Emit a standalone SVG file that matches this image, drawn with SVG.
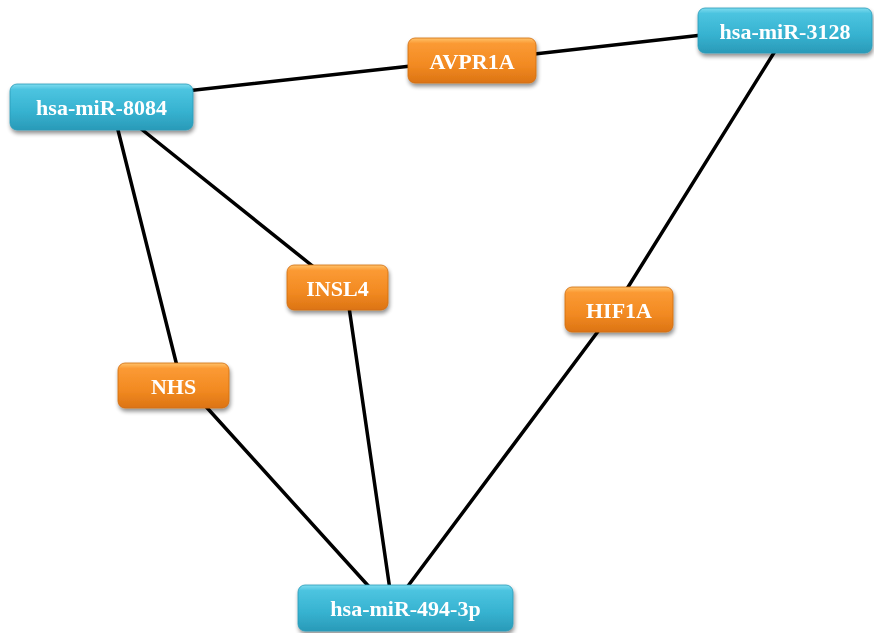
<svg xmlns="http://www.w3.org/2000/svg" width="874" height="633" viewBox="0 0 874 633">
<defs>
<linearGradient id="gb" x1="0" y1="0" x2="0" y2="1">
<stop offset="0" stop-color="#7fdcef"/>
<stop offset="0.12" stop-color="#4cc4e0"/>
<stop offset="0.6" stop-color="#36b2d0"/>
<stop offset="1" stop-color="#2a9ab8"/>
</linearGradient>
<linearGradient id="go" x1="0" y1="0" x2="0" y2="1">
<stop offset="0" stop-color="#ffc36a"/>
<stop offset="0.12" stop-color="#fb9a34"/>
<stop offset="0.6" stop-color="#f28a22"/>
<stop offset="1" stop-color="#dc7414"/>
</linearGradient>
<filter id="sh" x="-10%" y="-20%" width="125%" height="150%">
<feGaussianBlur in="SourceAlpha" stdDeviation="2"/>
<feOffset dx="1" dy="3" result="b"/>
<feComponentTransfer><feFuncA type="linear" slope="0.45"/></feComponentTransfer>
<feMerge><feMergeNode/><feMergeNode in="SourceGraphic"/></feMerge>
</filter>
</defs>
<style>
.mir rect{fill:url(#gb);stroke:#2a9ab8;stroke-width:0.8}
.gene rect{fill:url(#go);stroke:#d06c10;stroke-width:0.8}
text{font-family:"Liberation Serif","Times New Roman",serif;font-weight:bold;font-size:22px;fill:#ffffff;text-anchor:middle}
.edges line{stroke:#000000;stroke-width:3.5;stroke-linecap:round}
</style>
<rect width="874" height="633" fill="#ffffff"/>
<g class="edges">
<line x1="150" y1="95" x2="420" y2="65"/>
<line x1="500" y1="58" x2="720" y2="33"/>
<line x1="115" y1="118" x2="178" y2="370"/>
<line x1="130" y1="120" x2="320" y2="272"/>
<line x1="785" y1="35" x2="620" y2="300"/>
<line x1="200" y1="400" x2="372" y2="590"/>
<line x1="348" y1="300" x2="390" y2="590"/>
<line x1="605" y1="322" x2="405" y2="590"/>
</g>
<g id="n-hsa-miR-8084" class="mir" filter="url(#sh)"><rect x="10" y="84" width="183" height="46" rx="7"/><text x="101.5" y="114.5">hsa-miR-8084</text></g>
<g id="n-AVPR1A" class="gene" filter="url(#sh)"><rect x="408" y="38" width="128" height="45" rx="7"/><text x="472" y="68.5">AVPR1A</text></g>
<g id="n-hsa-miR-3128" class="mir" filter="url(#sh)"><rect x="698" y="8" width="174" height="45" rx="7"/><text x="785" y="38.5">hsa-miR-3128</text></g>
<g id="n-NHS" class="gene" filter="url(#sh)"><rect x="118" y="363" width="111" height="45" rx="7"/><text x="173.5" y="393.5">NHS</text></g>
<g id="n-INSL4" class="gene" filter="url(#sh)"><rect x="287" y="265" width="101" height="45" rx="7"/><text x="337.5" y="295.5">INSL4</text></g>
<g id="n-HIF1A" class="gene" filter="url(#sh)"><rect x="565" y="287" width="108" height="45" rx="7"/><text x="619" y="317.5">HIF1A</text></g>
<g id="n-hsa-miR-494-3p" class="mir" filter="url(#sh)"><rect x="298" y="585" width="215" height="46" rx="7"/><text x="405.5" y="615.5">hsa-miR-494-3p</text></g>
</svg>
